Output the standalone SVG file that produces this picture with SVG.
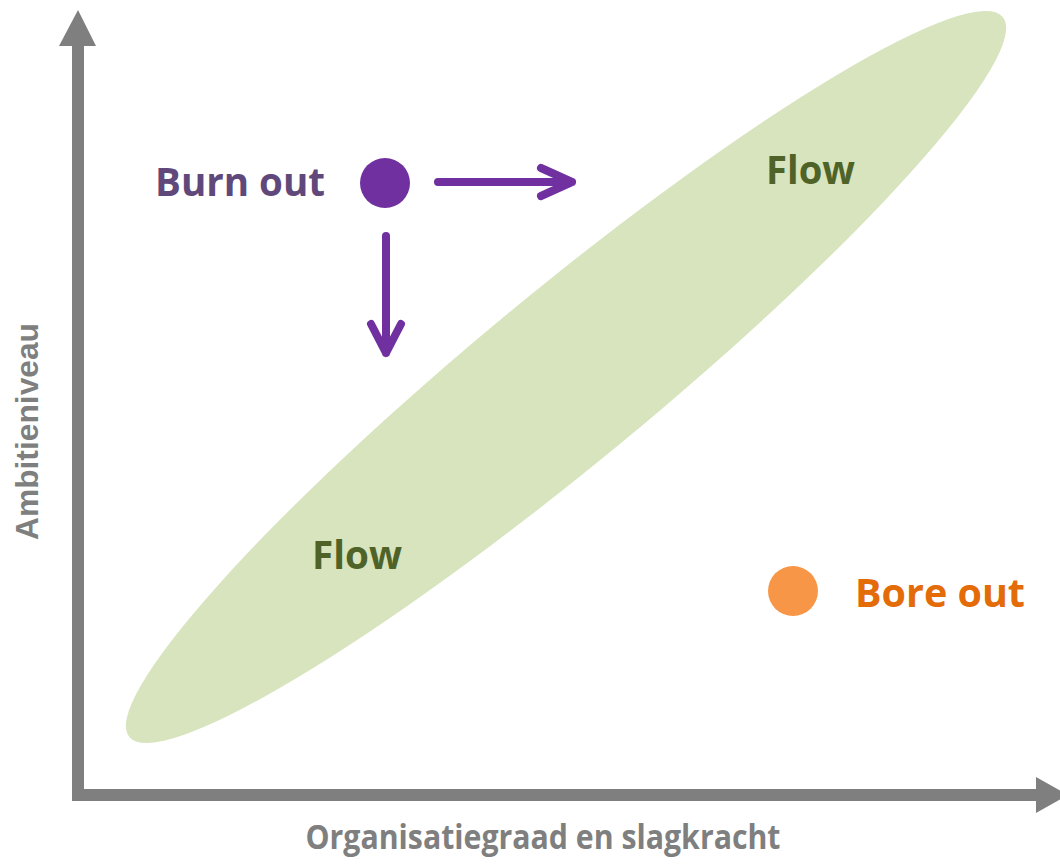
<svg xmlns="http://www.w3.org/2000/svg" width="1060" height="865" viewBox="0 0 1060 865">
<style>
.lbl{font-family:"Open Sans","Liberation Sans",sans-serif;font-weight:bold;}
.axis{fill:#7F7F7F;}
.flow{fill:#4F6228;font-size:40px;}
.parrow{fill:none;stroke:#7030A0;stroke-width:8;stroke-linecap:round;stroke-linejoin:round;}
</style>
<rect width="1060" height="865" fill="#FFFFFF"/>
<g id="flow-zone">
<ellipse cx="566" cy="377" rx="566" ry="86" transform="rotate(-39.5 566 377)" fill="#D7E4BD"/>
<text class="lbl flow" x="766" y="184" textLength="89" lengthAdjust="spacingAndGlyphs">Flow</text>
<text class="lbl flow" x="312" y="569" textLength="90" lengthAdjust="spacingAndGlyphs">Flow</text>
</g>
<g id="axes">
<rect class="axis" x="72" y="44" width="12" height="757"/>
<polygon class="axis" points="59,46 78,10 96,46"/>
<rect class="axis" x="72" y="789" width="965" height="12"/>
<polygon class="axis" points="1036,777 1068,795 1036,813"/>
<text class="lbl" x="543" y="849" text-anchor="middle" font-size="34" fill="#7F7F7F" textLength="475" lengthAdjust="spacingAndGlyphs">Organisatiegraad en slagkracht</text>
<text transform="translate(38,431.5) rotate(-90)" text-anchor="middle" font-family="'Liberation Sans',Arial,sans-serif" font-weight="bold" font-size="31" fill="#7F7F7F" textLength="217" lengthAdjust="spacingAndGlyphs">Ambitieniveau</text>
</g>
<g id="burn-out">
<circle cx="385" cy="183" r="25" fill="#7030A0"/>
<text class="lbl" x="155" y="196" font-size="40" fill="#60497A" textLength="170" lengthAdjust="spacingAndGlyphs">Burn out</text>
</g>
<g id="bore-out">
<circle cx="793" cy="591" r="25" fill="#F79646"/>
<text class="lbl" x="855" y="607" font-size="40" fill="#E36C09" textLength="170" lengthAdjust="spacingAndGlyphs">Bore out</text>
</g>
<g id="connectors">
<path class="parrow" d="M438,182 H572 M541,168 L572,182 L541,196"/>
<path class="parrow" d="M386,236 V353 M371,324 L386,353 L401,324"/>
</g>
</svg>
